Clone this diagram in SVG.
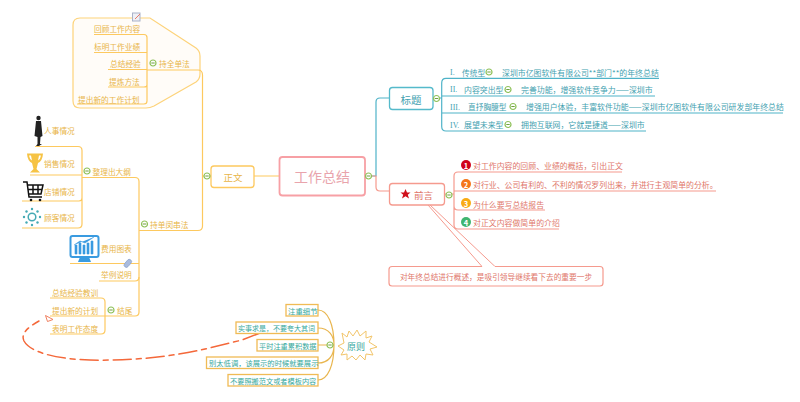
<svg xmlns="http://www.w3.org/2000/svg" width="800" height="402" viewBox="0 0 800 402">
<style>
text{font-family:"Noto Sans CJK SC","Liberation Sans",sans-serif;font-size:7.7px;dominant-baseline:central}
.y{fill:#e8b548}.t{fill:#3f9fb0;font-size:7.9px}.r{fill:#e0766a;font-size:7.9px}.g{fill:#35a89c}
.ly{fill:none;stroke:#fdc95f;stroke-width:1.2}
.lt{fill:none;stroke:#4fb3c8;stroke-width:1.2}
.lr{fill:none;stroke:#f59a8e;stroke-width:1.2}
.lo{fill:none;stroke:#e9b64f;stroke-width:1.2}
.c{fill:#fff;stroke:#8fc15a;stroke-width:1.2}
.m{fill:none;stroke:#6f9f3f;stroke-width:1}
.b{fill:#fff;stroke:#f0bb55;stroke-width:1.3}
.n{fill:#fff;font-weight:700;font-size:7.5px;text-anchor:middle}
.s{font-family:"Liberation Serif",serif}
</style>
<defs>
<g id="fold"><circle r="3" class="c"/><path d="M-1.700 0H1.700" class="m"/></g>
</defs>
<g id="connectors">
<path id="group-shape" d="M80 18H150L196 48Q200 51 200 56V74Q200 79 196 82L154 106Q150 108 146 108H80Q73 108 73 101V25Q73 18 80 18Z" fill="#fffcf8" stroke="#fdd37a" stroke-width="1.200"/>
<path class="ly" d="M254 176H279M211 176H202.500M202.500 75V226Q202.500 230.500 198 230.500H139M147 70H198Q202.500 70 202.500 75"/>
<path class="ly" d="M94 34.500H144Q147 34.500 147 37.500V101Q147 104 144 104H77M94 52.500H147M108 69.500H147M108 87H144Q147 87 147 85"/>
<path class="ly" d="M82 177.500H135Q139 177.500 139 181.500V312Q139 316 135 316H50"/>
<path class="ly" d="M35 146.500H78Q82 146.500 82 150.500V224Q82 228 78 228H22M30 175H82M22 201H79Q82 201 82 198"/>
<path class="ly" d="M70 263.500H139M99 281H135Q139 281 139 277"/>
<path class="ly" d="M50 298H101Q105 298 105 302V330Q105 334 101 334H50"/>
<path class="lt" d="M365 176H376V102Q376 98 380 98H389M433 98H441.700M441.700 83V126.500Q441.700 131 446 131H646M446 78.300Q441.700 78.300 441.700 83M446 78.300H659M441.700 96H655M441.700 113H783"/>
<path class="lr" d="M365 176H376V187Q376 191 380 191H389M445 194H454M622 172H458Q454 172 454 176V225Q454 229 458 229H559M454 191H716M458 210Q454 210 454 206M458 210H545"/>
<path class="lo" d="M334 345C334 325 328 310 318 310M334 345C334 336 329 328 318 328M334 345H318M334 345C334 355 329 363 318 363M334 345C334 365 328 380 318 380"/>
<path d="M260 333L242 340L205 349C170 357 130 361 90 360C55 359 30 352 24 341C20 333 30 326 39 321" fill="none" stroke="#f4683a" stroke-width="1.500" stroke-dasharray="18 5 5 5" stroke-linecap="round"/>
<path d="M45.500 315.500L53 319.500L47.500 321.500Z" fill="#fff" stroke="#f08060" stroke-width="1"/>
</g>
<g id="node-center"><rect x="279.500" y="157" width="85.500" height="38.500" rx="3" fill="#fff" stroke="#f7a0a5" stroke-width="1.800"/><text x="322" y="176" text-anchor="middle" style="font-size:14px;fill:#e9a4ac">工作总结</text><use href="#fold" x="368.500" y="176"/></g>
<g id="node-zhengwen"><rect x="211" y="166" width="43" height="21.500" rx="3" fill="#fff" stroke="#fdc95f" stroke-width="1.300"/><text x="233" y="177" text-anchor="middle" class="y" style="font-size:9.500px">正文</text><use href="#fold" x="207" y="176"/></g>
<g id="node-quanquan"><use href="#fold" x="153" y="63"/><text x="159" y="63" class="y">持全单法</text>
<text x="94" y="28" class="y">回顾工作内容</text><text x="94" y="46" class="y">标明工作业绩</text><text x="110" y="63" class="y">总结经验</text><text x="109" y="81" class="y">提炼方法</text><text x="78" y="99" class="y">提出新的工作计划</text>
<rect x="132.500" y="13" width="7.500" height="8" fill="#eef0f6" stroke="#aab2c8"/><path d="M135 19L140 14" stroke="#e87a6a" stroke-width="1"/></g>
<g id="node-dagang"><use href="#fold" x="87" y="171"/><text x="92.500" y="171" class="y">整理出大纲</text>
<text x="44" y="130" class="y">人事情况</text><text x="44" y="163" class="y">销售情况</text><text x="44" y="191" class="y">店铺情况</text><text x="44" y="217" class="y">顾客情况</text>
<circle cx="38.500" cy="118" r="2.200" fill="#222"/><path d="M36 121H41L42.500 136L40.500 137L40 144H42L39 146H36L37.500 144V137L34.500 136Z" fill="#222"/>
<path d="M27 153.500H43Q42.500 161 38 163L36.500 169L40 172.500H30L33.500 169L32 163Q27.500 161 27 153.500ZM29 155.500Q29.500 159 32 160.500L31 155.500ZM41 155.500Q40.500 159 38 160.500L39 155.500Z" fill="#f6c344" fill-rule="evenodd"/>
<path d="M23 182H27L29 197H42M28 185H43L41 194H29M33 185V194M38 185V194M28 189.500H42" fill="none" stroke="#111" stroke-width="1.500"/><circle cx="31" cy="200" r="1.300" fill="#111"/><circle cx="40" cy="200" r="1.300" fill="#111"/>
<circle cx="32" cy="217" r="3.800" fill="#fff" stroke="#45aab4" stroke-width="1.500"/><g fill="#45aab4"><circle cx="32" cy="209" r="1.200"/><circle cx="32" cy="225" r="1.200"/><circle cx="24" cy="217" r="1.200"/><circle cx="40" cy="217" r="1.200"/><circle cx="26.500" cy="211.500" r="1.200"/><circle cx="37.500" cy="211.500" r="1.200"/><circle cx="26.500" cy="222.500" r="1.200"/><circle cx="37.500" cy="222.500" r="1.200"/></g></g>
<g id="node-chuan"><use href="#fold" x="144.500" y="224"/><text x="150" y="224" class="y">持单闵串法</text>
<rect x="70.500" y="236" width="28" height="21" rx="2" fill="#fff" stroke="#3a9be0" stroke-width="2"/><path d="M80 257H89L91 262H78Z" fill="#3a9be0"/><path d="M75 254V245H77V254ZM79 254V243H81V254ZM83 254V245H85V254ZM87 254V243H89V254ZM91 254V241H93V254ZM74 245L80 241L85 243L94 237" fill="#3a9be0" stroke="#3a9be0" stroke-width=".6"/>
<text x="101" y="248" class="y">费用图表</text><text x="101" y="274.500" class="y">举例说明</text>
<rect x="123.500" y="261" width="9" height="4.500" rx="2.200" transform="rotate(-50 128 263.500)" fill="#aabbdd" stroke="#8ea4cc" stroke-width=".8"/></g>
<g id="node-jiewei"><use href="#fold" x="111" y="310"/><text x="117" y="310" class="y">结尾</text>
<text x="52" y="292" class="y">总结经验教训</text><text x="52" y="310" class="y">提出新的计划</text><text x="52" y="328" class="y">表明工作态度</text></g>
<g id="node-yuanze"><path d="M342 333L347 337L349 331L353 336L357 330L360 336L366 331L366 338L372 336L369 342L377 347L370 349L373 355L366 354L365 360L360 355L356 360L352 356L347 360L347 354L341 355L344 350L338 346L344 343Z" fill="#fff" stroke="#f2c56a" stroke-width="1"/><text x="356" y="346" text-anchor="middle" class="g" style="font-size:9px">原则</text><use href="#fold" x="330" y="345"/>
<rect class="b" x="286" y="304.500" width="32" height="11.500"/><text x="288" y="310.500" class="g" style="font-size:7.400px">注重细节</text>
<rect class="b" x="236" y="322" width="82" height="11.500"/><text x="238" y="328" class="g" style="font-size:7px">实事求是，不要夸大其词</text>
<rect class="b" x="257" y="339.500" width="61" height="11.500"/><text x="259" y="345.500" class="g" style="font-size:7.200px">平时注重累积数据</text>
<rect class="b" x="206.500" y="357" width="111.500" height="11.500"/><text x="209" y="363" class="g" style="font-size:7.300px">别太低调，该展示的时候就要展示</text>
<rect class="b" x="228" y="374.500" width="90" height="11.500"/><text x="230" y="380.500" class="g" style="font-size:7.200px">不要照搬范文或者模板内容</text></g>
<g id="node-biaoti"><rect x="389.500" y="87.500" width="43.500" height="22" rx="3" fill="#fff" stroke="#55bacb" stroke-width="1.300"/><text x="411" y="99" text-anchor="middle" class="t" style="font-size:10.500px">标题</text><use href="#fold" x="436.500" y="98.500"/>
<text x="450" y="72" class="t s">I.</text><text x="462" y="72" class="t" style="font-size:7.700px">传统型</text><use href="#fold" x="489" y="72"/><text x="502" y="72" class="t">深圳市亿图软件有限公司**部门**的年终总结</text>
<text x="450" y="89.500" class="t s">II.</text><text x="464" y="89.500" class="t">内容突出型</text><use href="#fold" x="508" y="89.500"/><text x="521" y="89.500" class="t">完善功能，增强软件竞争力——深圳市</text>
<text x="450" y="107" class="t s">III.</text><text x="468" y="106" class="t" style="font-size:7.700px">直抒胸臆型</text><use href="#fold" x="513" y="106.500"/><text x="526" y="106" class="t">增强用户体验，丰富软件功能——深圳市亿图软件有限公司研发部年终总结</text>
<text x="450" y="125" class="t s">IV.</text><text x="464" y="124" class="t">展望未来型</text><use href="#fold" x="508" y="124.500"/><text x="521" y="124" class="t">拥抱互联网，它就是捷道——深圳市</text></g>
<g id="node-qianyan"><rect x="389.500" y="183.500" width="55" height="21.500" rx="3" fill="#fff" stroke="#f59a8e" stroke-width="1.300"/><path d="M405.500 189L407 192.500H410.500L407.800 194.800L409 198.500L405.500 196.300L402 198.500L403.200 194.800L400.500 192.500H404Z" fill="#d0101c"/><text x="414" y="195" class="r" style="font-size:9.500px">前言</text><use href="#fold" x="449" y="195"/>
<circle cx="466" cy="165" r="5" fill="#d0021b"/><text x="466" y="165" class="n">1</text><text x="473" y="165" class="r">对工作内容的回顾、业绩的概括，引出正文</text>
<circle cx="466" cy="184" r="5" fill="#f5761a"/><text x="466" y="184" class="n">2</text><text x="473" y="184" class="r">对行业、公司有利的、不利的情况罗列出来，并进行主观简单的分析。</text>
<circle cx="466" cy="203" r="5" fill="#f9ab14"/><text x="466" y="203" class="n">3</text><text x="473" y="204" class="r">为什么要写总结报告</text>
<circle cx="466" cy="222" r="5" fill="#3fb56f"/><text x="466" y="222" class="n">4</text><text x="473" y="222" class="r">对正文内容做简单的介绍</text></g>
<g id="node-callout"><path d="M482 266.500L428 205M495 266.500L430 205" fill="none" stroke="#f59a8e"/><path d="M482 266.500H392Q389 266.500 389 269.500V283Q389 286 392 286H600Q603 286 603 283V269.500Q603 266.500 600 266.500H495" fill="#fff" stroke="#f59a8e" stroke-width="1.200"/><text x="496" y="276" text-anchor="middle" class="r" style="font-size:7.700px">对年终总结进行概述，是吸引领导继续看下去的重要一步</text></g>
</svg>
